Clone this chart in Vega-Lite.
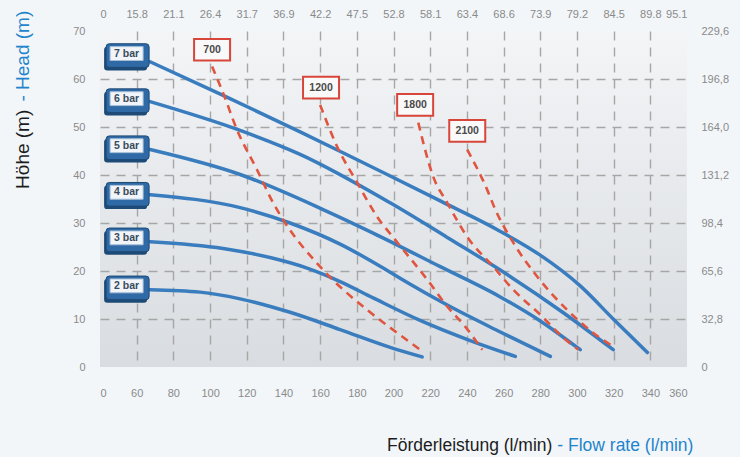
{
  "$schema": "https://vega.github.io/schema/vega-lite/v6.json",
  "width": 587,
  "height": 336,
  "autosize": {"type": "none"},
  "padding": {"left": 100, "top": 31, "right": 53, "bottom": 90},
  "background": "#f2f6f9",
  "config": {
    "view": {"stroke": null, "fill": {"gradient": "linear", "x1": 0, "y1": 0, "x2": 0, "y2": 1, "stops": [{"offset": 0, "color": "#f3f5f7"}, {"offset": 1, "color": "#d9dce0"}]}},
    "axis": {"domain": false, "ticks": false, "title": null, "labelFont": "Liberation Sans", "labelFontSize": 11, "labelColor": "#8a8a8a", "gridColor": "#a6a6a6", "gridDash": [9, 7], "gridWidth": 1.4},
    "text": {"font": "Liberation Sans"}
  },
  "datasets": {
    "curves": [
      {"series": "7 bar", "Q": 67.3, "H": 63.6}, {"series": "7 bar", "Q": 107.1, "H": 56.6}, {"series": "7 bar", "Q": 149.1, "H": 49.0}, {"series": "7 bar", "Q": 178, "H": 43.6}, {"series": "7 bar", "Q": 198.2, "H": 39.8}, {"series": "7 bar", "Q": 225.5, "H": 34.6}, {"series": "7 bar", "Q": 256.6, "H": 28.6}, {"series": "7 bar", "Q": 280, "H": 23.3}, {"series": "7 bar", "Q": 301.8, "H": 16.9}, {"series": "7 bar", "Q": 319.8, "H": 10.0}, {"series": "7 bar", "Q": 338.4, "H": 3.0},
      {"series": "6 bar", "Q": 67.3, "H": 55.3}, {"series": "6 bar", "Q": 116.4, "H": 49.3}, {"series": "6 bar", "Q": 149.1, "H": 44.3}, {"series": "6 bar", "Q": 198.2, "H": 34.2}, {"series": "6 bar", "Q": 229.3, "H": 27.0}, {"series": "6 bar", "Q": 258.2, "H": 20.2}, {"series": "6 bar", "Q": 292.6, "H": 11.3}, {"series": "6 bar", "Q": 319.8, "H": 3.6},
      {"series": "5 bar", "Q": 67.3, "H": 45.3}, {"series": "5 bar", "Q": 116.4, "H": 40.1}, {"series": "5 bar", "Q": 161.6, "H": 32.8}, {"series": "5 bar", "Q": 188.9, "H": 27.9}, {"series": "5 bar", "Q": 225.5, "H": 20.9}, {"series": "5 bar", "Q": 258.2, "H": 14.6}, {"series": "5 bar", "Q": 280, "H": 9.6}, {"series": "5 bar", "Q": 301.8, "H": 3.6},
      {"series": "4 bar", "Q": 67.3, "H": 35.9}, {"series": "4 bar", "Q": 116.4, "H": 33.2}, {"series": "4 bar", "Q": 143.6, "H": 30.0}, {"series": "4 bar", "Q": 170.9, "H": 25.6}, {"series": "4 bar", "Q": 192.7, "H": 21.0}, {"series": "4 bar", "Q": 207.5, "H": 17.6}, {"series": "4 bar", "Q": 229.3, "H": 12.9}, {"series": "4 bar", "Q": 258.2, "H": 7.3}, {"series": "4 bar", "Q": 285.5, "H": 2.2},
      {"series": "3 bar", "Q": 67.3, "H": 26.1}, {"series": "3 bar", "Q": 107.1, "H": 24.7}, {"series": "3 bar", "Q": 132.7, "H": 22.8}, {"series": "3 bar", "Q": 152.9, "H": 20.6}, {"series": "3 bar", "Q": 170.9, "H": 17.8}, {"series": "3 bar", "Q": 188.9, "H": 14.4}, {"series": "3 bar", "Q": 214.5, "H": 9.7}, {"series": "3 bar", "Q": 241.8, "H": 5.5}, {"series": "3 bar", "Q": 266.4, "H": 2.2},
      {"series": "2 bar", "Q": 67.3, "H": 16.1}, {"series": "2 bar", "Q": 94.5, "H": 15.6}, {"series": "2 bar", "Q": 116.4, "H": 14.2}, {"series": "2 bar", "Q": 143.6, "H": 11.4}, {"series": "2 bar", "Q": 170.9, "H": 7.8}, {"series": "2 bar", "Q": 198.2, "H": 4.1}, {"series": "2 bar", "Q": 215.6, "H": 2.1}
    ],
    "red": [
      {"series": "700", "Q": 101.1, "H": 62.6}, {"series": "700", "Q": 107.1, "H": 57.1}, {"series": "700", "Q": 114.7, "H": 49.4}, {"series": "700", "Q": 125.6, "H": 41.1}, {"series": "700", "Q": 134.4, "H": 34.2}, {"series": "700", "Q": 139.8, "H": 30.7}, {"series": "700", "Q": 160, "H": 20.9}, {"series": "700", "Q": 185.6, "H": 11.9}, {"series": "700", "Q": 198.2, "H": 8.2}, {"series": "700", "Q": 214.5, "H": 3.6},
      {"series": "1200", "Q": 160, "H": 54.6}, {"series": "1200", "Q": 169.3, "H": 45.9}, {"series": "1200", "Q": 180.2, "H": 38.4}, {"series": "1200", "Q": 191.1, "H": 31.3}, {"series": "1200", "Q": 202, "H": 26.0}, {"series": "1200", "Q": 218.4, "H": 18.2}, {"series": "1200", "Q": 229.3, "H": 12.6}, {"series": "1200", "Q": 239.1, "H": 8.4}, {"series": "1200", "Q": 248.4, "H": 3.6},
      {"series": "1800", "Q": 213.5, "H": 50.9}, {"series": "1800", "Q": 221.7, "H": 39.6}, {"series": "1800", "Q": 229.3, "H": 34.2}, {"series": "1800", "Q": 240.2, "H": 27.1}, {"series": "1800", "Q": 254.4, "H": 20.9}, {"series": "1800", "Q": 265.3, "H": 16.1}, {"series": "1800", "Q": 280, "H": 10.9}, {"series": "1800", "Q": 292.6, "H": 6.1}, {"series": "1800", "Q": 300.8, "H": 3.6},
      {"series": "2100", "Q": 240.2, "H": 45.3}, {"series": "2100", "Q": 251.1, "H": 36.9}, {"series": "2100", "Q": 255.5, "H": 32.8}, {"series": "2100", "Q": 265.3, "H": 25.9}, {"series": "2100", "Q": 278.4, "H": 18.8}, {"series": "2100", "Q": 294.7, "H": 11.9}, {"series": "2100", "Q": 308.9, "H": 7.1}, {"series": "2100", "Q": 320.9, "H": 4.0}
    ],
    "bars": [
      {"label": "7 bar", "Q": 54.5, "H": 65.3},
      {"label": "6 bar", "Q": 54.5, "H": 55.9},
      {"label": "5 bar", "Q": 54.5, "H": 46.1},
      {"label": "4 bar", "Q": 54.5, "H": 36.4},
      {"label": "3 bar", "Q": 54.5, "H": 26.9},
      {"label": "2 bar", "Q": 54.5, "H": 16.9}
    ],
    "redlabels": [
      {"label": "700", "Q": 101.1, "H": 66.1},
      {"label": "1200", "Q": 160.5, "H": 58.2},
      {"label": "1800", "Q": 211.8, "H": 54.6},
      {"label": "2100", "Q": 240.2, "H": 49.2}
    ],
    "titles": [
      {"part": "x_de", "text": "Förderleistung (l/min)", "Q": 286.6, "H": -17.5},
      {"part": "x_en", "text": "- Flow rate (l/min)", "Q": 289.3, "H": -17.5},
      {"part": "y_de", "text": "Höhe (m)", "Q": 1.5, "H": 53.6},
      {"part": "y_en", "text": "- Head (m)", "Q": 1.5, "H": 55.3}
    ]
  },
  "layer": [
    {
      "data": {"name": "curves"},
      "mark": {"type": "line", "color": "#3a7dbf", "strokeWidth": 3.5, "interpolate": "monotone", "strokeCap": "round"},
      "encoding": {
        "x": {"field": "Q", "type": "quantitative", "scale": {"domain": [40, 360], "nice": false, "zero": false},
          "axis": {"orient": "bottom", "values": [40, 60, 80, 100, 120, 140, 160, 180, 200, 220, 240, 260, 280, 300, 320, 340, 360], "labelExpr": "datum.value == 40 ? '0' : datum.label", "labelPadding": 20, "grid": true, "gridOpacity": {"condition": {"test": "datum.value == 40 || datum.value == 360", "value": 0}, "value": 1}}},
        "y": {"field": "H", "type": "quantitative", "scale": {"domain": [0, 70], "nice": false},
          "axis": {"orient": "left", "values": [0, 10, 20, 30, 40, 50, 60, 70], "labelPadding": 15, "grid": true, "gridOpacity": {"condition": {"test": "datum.value == 0 || datum.value == 70", "value": 0}, "value": 1}}},
        "detail": {"field": "series", "type": "nominal"}
      }
    },
    {
      "data": {"name": "red"},
      "mark": {"type": "line", "color": "#e0553f", "strokeWidth": 2.6, "strokeDash": [8, 6], "interpolate": "monotone"},
      "encoding": {
        "x": {"field": "Q", "type": "quantitative", "scale": {"domain": [40, 360], "nice": false, "zero": false},
          "axis": {"orient": "top", "values": [40, 60, 80, 100, 120, 140, 160, 180, 200, 220, 240, 260, 280, 300, 320, 340, 360], "labelExpr": "['0','15.8','21.1','26.4','31.7','36.9','42.2','47.5','52.8','58.1','63.4','68.6','73.9','79.2','84.5','89.8','95.1'][round((datum.value-40)/20)]", "labelPadding": 12, "grid": false}},
        "y": {"field": "H", "type": "quantitative", "scale": {"domain": [0, 70], "nice": false},
          "axis": {"orient": "right", "values": [0, 10, 20, 30, 40, 50, 60, 70], "labelExpr": "['0','32,8','65,6','98,4','131,2','164,0','196,8','229,6'][round(datum.value/10)]", "labelPadding": 14, "grid": false}},
        "detail": {"field": "series", "type": "nominal"}
      }
    },
    {
      "data": {"name": "bars"},
      "mark": {"type": "point", "filled": true, "opacity": 1, "shape": "M-0.85,-0.55L0.85,-0.55Q1,-0.55 1,-0.4L1,0.4Q1,0.55 0.85,0.55L-0.85,0.55Q-1,0.55 -1,0.4L-1,-0.4Q-1,-0.55 -0.85,-0.55Z", "size": 1849, "color": "#1d4a76", "xOffset": -1, "yOffset": 5},
      "encoding": {"x": {"field": "Q", "type": "quantitative", "axis": null}, "y": {"field": "H", "type": "quantitative", "axis": null}}
    },
    {
      "data": {"name": "bars"},
      "mark": {"type": "point", "filled": true, "opacity": 1, "shape": "M-0.85,-0.55L0.85,-0.55Q1,-0.55 1,-0.4L1,0.4Q1,0.55 0.85,0.55L-0.85,0.55Q-1,0.55 -1,0.4L-1,-0.4Q-1,-0.55 -0.85,-0.55Z", "size": 1849, "color": "#2f6aa6", "stroke": "#1d4a76", "strokeWidth": 1, "xOffset": 1, "yOffset": 2},
      "encoding": {"x": {"field": "Q", "type": "quantitative", "axis": null}, "y": {"field": "H", "type": "quantitative", "axis": null}}
    },
    {
      "data": {"name": "bars"},
      "mark": {"type": "point", "filled": true, "opacity": 1, "shape": "M-1,-0.42L1,-0.42L1,0.42L-1,0.42Z", "size": 1089, "color": "#f1f5f9", "stroke": "#a7bfd7", "strokeWidth": 1},
      "encoding": {"x": {"field": "Q", "type": "quantitative", "axis": null}, "y": {"field": "H", "type": "quantitative", "axis": null}}
    },
    {
      "data": {"name": "bars"},
      "mark": {"type": "text", "fontSize": 10.5, "fontWeight": "bold", "color": "#3b4b5c", "baseline": "middle", "align": "center"},
      "encoding": {"x": {"field": "Q", "type": "quantitative", "axis": null}, "y": {"field": "H", "type": "quantitative", "axis": null}, "text": {"field": "label"}}
    },
    {
      "data": {"name": "redlabels"},
      "mark": {"type": "point", "filled": true, "opacity": 1, "shape": "M-1,-0.6L1,-0.6L1,0.6L-1,0.6Z", "size": 1296, "color": "#f9f9f9", "stroke": "#d8463b", "strokeWidth": 2},
      "encoding": {"x": {"field": "Q", "type": "quantitative", "axis": null}, "y": {"field": "H", "type": "quantitative", "axis": null}}
    },
    {
      "data": {"name": "redlabels"},
      "mark": {"type": "text", "fontSize": 10.5, "fontWeight": "bold", "color": "#4a4a4a", "baseline": "middle", "align": "center"},
      "encoding": {"x": {"field": "Q", "type": "quantitative", "axis": null}, "y": {"field": "H", "type": "quantitative", "axis": null}, "text": {"field": "label"}}
    },
    {
      "data": {"name": "titles"},
      "transform": [{"filter": "datum.part == 'x_de'"}],
      "mark": {"type": "text", "fontSize": 17.5, "color": "#1c1c1c", "align": "right", "baseline": "alphabetic"},
      "encoding": {"x": {"field": "Q", "type": "quantitative", "axis": null}, "y": {"field": "H", "type": "quantitative", "axis": null}, "text": {"field": "text"}}
    },
    {
      "data": {"name": "titles"},
      "transform": [{"filter": "datum.part == 'x_en'"}],
      "mark": {"type": "text", "fontSize": 17.5, "color": "#1f84cc", "align": "left", "baseline": "alphabetic"},
      "encoding": {"x": {"field": "Q", "type": "quantitative", "axis": null}, "y": {"field": "H", "type": "quantitative", "axis": null}, "text": {"field": "text"}}
    },
    {
      "data": {"name": "titles"},
      "transform": [{"filter": "datum.part == 'y_de'"}],
      "mark": {"type": "text", "fontSize": 19, "color": "#1c1c1c", "align": "right", "baseline": "alphabetic", "angle": 270},
      "encoding": {"x": {"field": "Q", "type": "quantitative", "axis": null}, "y": {"field": "H", "type": "quantitative", "axis": null}, "text": {"field": "text"}}
    },
    {
      "data": {"name": "titles"},
      "transform": [{"filter": "datum.part == 'y_en'"}],
      "mark": {"type": "text", "fontSize": 19, "color": "#1f84cc", "align": "left", "baseline": "alphabetic", "angle": 270},
      "encoding": {"x": {"field": "Q", "type": "quantitative", "axis": null}, "y": {"field": "H", "type": "quantitative", "axis": null}, "text": {"field": "text"}}
    }
  ],
  "resolve": {"axis": {"x": "independent", "y": "independent"}}
}
